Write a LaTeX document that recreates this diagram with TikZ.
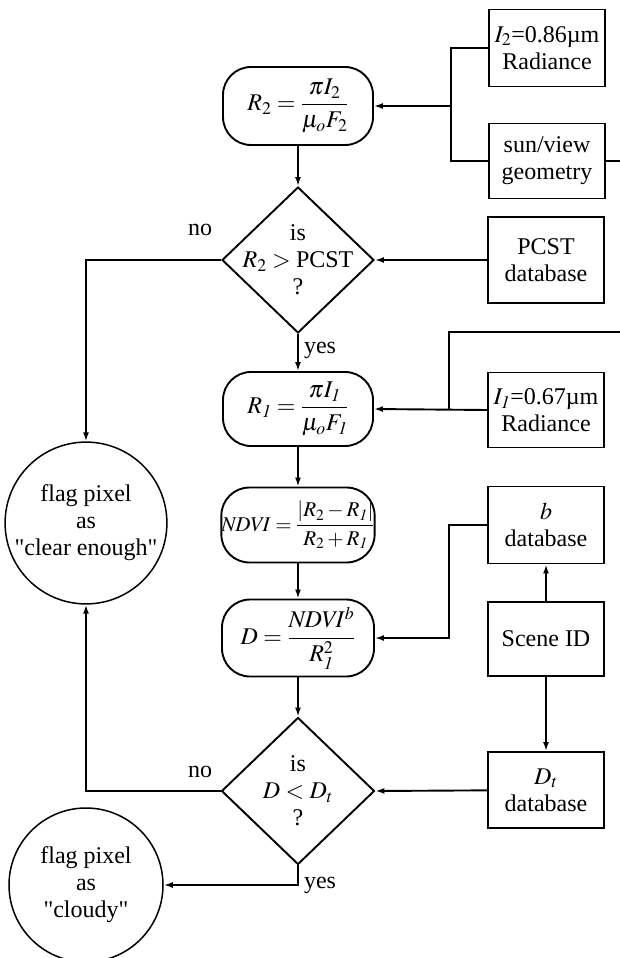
\documentclass[tikz,border=0pt]{standalone}
\usepackage{mathptmx}
\usepackage{fontspec}
\setmainfont{Liberation Serif}
\usetikzlibrary{arrows.meta,shapes.geometric}

\begin{document}
\begin{tikzpicture}[
  x=1pt,y=-1pt,
  >={Latex[length=9pt,width=6pt]},
  every node/.style={font=\fontsize{24}{27}\selectfont},
  calc/.style={rectangle,rounded corners=28pt,draw,line width=1.9pt,minimum width=150pt,inner sep=0pt,align=center},
  box/.style={rectangle,draw,line width=1.9pt,minimum width=116pt,inner sep=0pt,align=center},
  test/.style={diamond,draw,line width=1.9pt,minimum width=152pt,minimum height=146pt,inner sep=0pt},
  flag/.style={circle,draw,line width=1.5pt,inner sep=0pt,align=center},
  lbl/.style={inner sep=0pt,align=center},
  link/.style={line width=1.9pt}]

\useasboundingbox (0,0) rectangle (620,958);

% inputs on the right
\node[box,minimum height=77pt] (itwo) at (547,48) {$I_2$=0.86µm\\Radiance};
\node[box,minimum height=75pt] (geom) at (547,161) {sun/view\\geometry};
\node[box,minimum height=86pt] (pcst) at (546,260) {PCST\\database};
\node[box,minimum height=75pt] (ione) at (546,410) {$I_{\mathit{1}}$=0.67µm\\Radiance};
\node[box,minimum height=77pt] (bdb) at (546,525) {$b$\\database};
\node[box,minimum height=74pt] (scene) at (546,639) {Scene ID};
\node[box,minimum height=76pt] (dtdb) at (546,790) {$D_t$\\database};

% main column
\node[calc,minimum height=78pt] (rtwo) at (298,106)
  {$\displaystyle R_2=\frac{\pi I_2}{\mu_o F_2}$};
\node[test] (tone) at (298,260) {};
\node[lbl] (tonetxt) at (tone) {is\\$R_2>{}$PCST\\?};
\node[calc,minimum height=74pt] (rone) at (298,409)
  {$\displaystyle R_{\mathit{1}}=\frac{\pi I_{\mathit{1}}}{\mu_o F_{\mathit{1}}}$};
\node[calc,minimum height=75pt,font=\fontsize{21}{24}\selectfont] (ndvi) at (298,525)
  {$\displaystyle \mathit{NDVI}=\frac{|R_2-R_{\mathit{1}}|}{R_2+R_{\mathit{1}}}$};
\node[calc,minimum height=77pt,minimum width=152pt] (dval) at (298,638)
  {$\displaystyle D=\frac{\mathit{NDVI}^b}{R_{\mathit{1}}^2}$};
\node[test,minimum width=153pt,minimum height=147pt] (ttwo) at (298,791) {};
\node[lbl] (ttwotxt) at (ttwo) {is\\$D<D_t$\\?};

% results
\node[flag,minimum size=152pt] (clear) at (86,523)
  {flag pixel\\as\\\textquotedbl clear enough\textquotedbl};
\node[flag,minimum size=154pt] (cloudy) at (86,885)
  {flag pixel\\as\\\textquotedbl cloudy\textquotedbl};

% branch labels
\node[lbl] (noone) at (200,230) {no};
\node[lbl] (yesone) at (320,350) {yes};
\node[lbl] (notwo) at (200,772) {no};
\node[lbl] (yestwo) at (320,885) {yes};

% junctions and ends off the page
\coordinate (jtwo) at (451,106);
\coordinate (jone) at (449,409);
\coordinate (jb) at (449,525);
\coordinate (egeom) at (620,161);
\coordinate (eone) at (620,332);

% connectors
\draw[link] (itwo.west) -- (itwo.west -| jtwo) -- (geom.west -| jtwo) -- (geom.west);
\draw[link] (geom.east) -- (egeom);
\draw[link,->] (jtwo) -- (rtwo.east);
\draw[link,->] (rtwo) -- (tone.north);
\draw[link,->] (pcst) -- (tone.east);
\draw[link,->] (tone.west) -| (clear.north);
\draw[link,->] (tone.south) -- (rone.north);
\draw[link,->] (ione.west) -- (rone.east);
\draw[link] (jone) |- (eone);
\draw[link,->] (rone) -- (ndvi.north);
\draw[link,->] (ndvi) -- (dval.north);
\draw[link,->] (bdb.west) -- (jb) |- (dval.east);
\draw[link,->] (scene) -- (bdb.south);
\draw[link,->] (scene) -- (dtdb.north);
\draw[link,->] (dval) -- (ttwo.north);
\draw[link,->] (dtdb) -- (ttwo.east);
\draw[link,->] (ttwo.west) -| (clear.south);
\draw[link,->] (ttwo.south) |- (cloudy.east);
\end{tikzpicture}
\end{document}
